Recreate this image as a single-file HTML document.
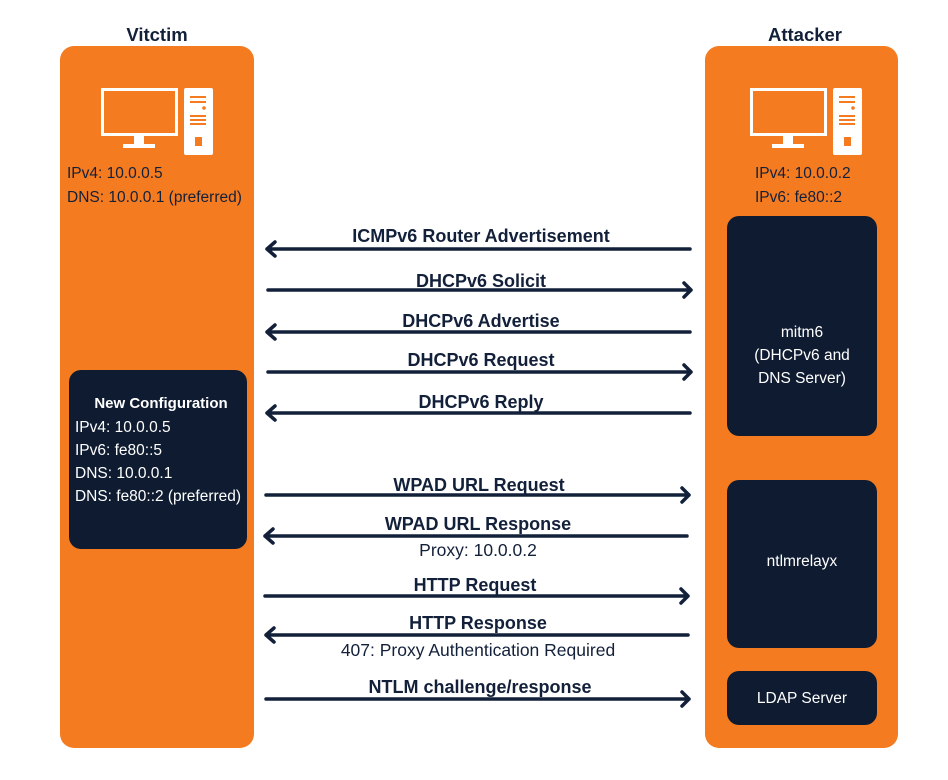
<!DOCTYPE html>
<html><head><meta charset="utf-8"><style>
html,body{margin:0;padding:0;background:#fff}
svg{display:block}
text{font-family:"Liberation Sans",sans-serif}
</style></head><body>
<svg width="948" height="780" viewBox="0 0 948 780" xmlns="http://www.w3.org/2000/svg">
<defs>
<g id="pc">
<rect x="1.5" y="1.5" width="74" height="45" fill="none" stroke="#fff" stroke-width="3"/>
<rect x="33" y="47" width="10" height="10" fill="#fff"/>
<rect x="22" y="56" width="32" height="4" fill="#fff"/>
<rect x="83" y="0" width="29" height="67" rx="2" fill="#fff"/>
<rect x="89" y="8" width="16" height="2" fill="#F47B20"/>
<rect x="89" y="13" width="16" height="2" fill="#F47B20"/>
<circle cx="103" cy="20" r="1.8" fill="#F47B20"/>
<rect x="89" y="27" width="16" height="2" fill="#F47B20"/>
<rect x="89" y="31" width="16" height="2" fill="#F47B20"/>
<rect x="89" y="35" width="16" height="2" fill="#F47B20"/>
<rect x="94" y="49" width="7" height="9" fill="#F47B20"/>
</g>
</defs>
<text x="157" y="41" text-anchor="middle" font-size="18.5" font-weight="bold" fill="#13203a">Vitctim</text>
<text x="805" y="41" text-anchor="middle" font-size="18.5" font-weight="bold" fill="#13203a">Attacker</text>
<rect x="60" y="46" width="194" height="702" rx="14" fill="#F47B20"/>
<rect x="705" y="46" width="193" height="702" rx="14" fill="#F47B20"/>
<use href="#pc" x="101" y="88"/>
<use href="#pc" x="750" y="88"/>
<g font-size="15.5" fill="#13203a">
<text x="67" y="178">IPv4: 10.0.0.5</text>
<text x="67" y="202">DNS: 10.0.0.1 (preferred)</text>
<text x="755" y="178">IPv4: 10.0.0.2</text>
<text x="755" y="202">IPv6: fe80::2</text>
</g>
<rect x="69" y="370" width="178" height="179" rx="12" fill="#0E1B30"/>
<rect x="727" y="216" width="150" height="220" rx="12" fill="#0E1B30"/>
<rect x="727" y="480" width="150" height="168" rx="12" fill="#0E1B30"/>
<rect x="727" y="671" width="150" height="54" rx="12" fill="#0E1B30"/>
<g fill="#fff" font-size="15.5">
<text x="161" y="408" text-anchor="middle" font-weight="bold" font-size="15">New Configuration</text>
<text x="75" y="432">IPv4: 10.0.0.5</text>
<text x="75" y="455">IPv6: fe80::5</text>
<text x="75" y="478">DNS: 10.0.0.1</text>
<text x="75" y="501" textLength="166" lengthAdjust="spacingAndGlyphs">DNS: fe80::2 (preferred)</text>
<text x="802" y="337" text-anchor="middle">mitm6</text>
<text x="802" y="360" text-anchor="middle">(DHCPv6 and</text>
<text x="802" y="383" text-anchor="middle">DNS Server)</text>
<text x="802" y="566" text-anchor="middle">ntlmrelayx</text>
<text x="802" y="703" text-anchor="middle">LDAP Server</text>
</g>
<g stroke="#13203a" stroke-width="3.5" fill="none" stroke-linecap="round" stroke-linejoin="round">
<path d="M690 249H267M275 242L267 249L275 256"/>
<path d="M268 290H691M684 283L691 290L684 297"/>
<path d="M690 332H267M275 325L267 332L275 339"/>
<path d="M268 372H691M684 365L691 372L684 379"/>
<path d="M690 413H267M275 406L267 413L275 420"/>
<path d="M266 495H689M682 488L689 495L682 502"/>
<path d="M687 536H265M273 529L265 536L273 543"/>
<path d="M265 596H688M681 589L688 596L681 603"/>
<path d="M688 635H266M274 628L266 635L274 642"/>
<path d="M266 699H689M682 692L689 699L682 706"/>
</g>
<g fill="#13203a" font-size="18" font-weight="bold" text-anchor="middle">
<text x="481" y="242">ICMPv6 Router Advertisement</text>
<text x="481" y="287">DHCPv6 Solicit</text>
<text x="481" y="327">DHCPv6 Advertise</text>
<text x="481" y="366">DHCPv6 Request</text>
<text x="481" y="408">DHCPv6 Reply</text>
<text x="479" y="491">WPAD URL Request</text>
<text x="478" y="530">WPAD URL Response</text>
<text x="475" y="591">HTTP Request</text>
<text x="478" y="629">HTTP Response</text>
<text x="480" y="693">NTLM challenge/response</text>
</g>
<g fill="#13203a" font-size="17.5" text-anchor="middle">
<text x="478" y="556">Proxy: 10.0.0.2</text>
<text x="478" y="656">407: Proxy Authentication Required</text>
</g>
</svg>
</body></html>
